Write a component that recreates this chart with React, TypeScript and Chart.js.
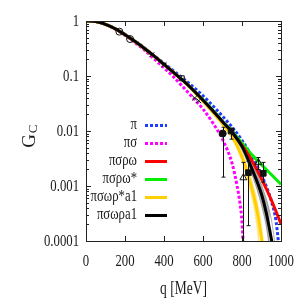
import { useEffect, useRef } from "react";
import { Chart, registerables } from "chart.js";
Chart.register(...registerables);

// ---- curves (q in MeV, G_C) ----
const qPi = [0, 50, 100, 150, 200, 250, 300, 350, 400, 450, 500, 550, 600, 650, 700, 750, 800, 850, 900, 950, 975, 992];
const gPi = [1, 0.977, 0.871, 0.724, 0.575, 0.437, 0.324, 0.234, 0.17, 0.123, 0.0891, 0.0631, 0.0437, 0.0288, 0.0186, 0.0117, 0.00676, 0.00347, 0.00158, 0.000537, 0.000224, 0.000063];

const qPiSigma = [0, 50, 100, 150, 200, 250, 300, 350, 400, 450, 500, 550, 600, 650, 700, 750, 775, 790, 800, 808];
const gPiSigma = [1, 0.977, 0.871, 0.708, 0.55, 0.407, 0.295, 0.204, 0.141, 0.0955, 0.0617, 0.0398, 0.0251, 0.0141, 0.00708, 0.00251, 0.001, 0.000479, 0.000224, 0.000063];

const qRhoOmega = [0, 50, 100, 150, 200, 250, 300, 350, 400, 450, 500, 550, 600, 650, 700, 750, 800, 850, 900, 950, 1000];
const gRhoOmega = [1, 0.977, 0.871, 0.724, 0.562, 0.427, 0.316, 0.229, 0.162, 0.115, 0.0813, 0.055, 0.0363, 0.0234, 0.0148, 0.00933, 0.0055, 0.00295, 0.00135, 0.000562, 0.000204];

const qRhoOmegaStar = [0, 50, 100, 150, 200, 250, 300, 350, 400, 450, 500, 550, 600, 650, 700, 750, 800, 850, 900, 950, 1000];
const gRhoOmegaStar = [1, 0.977, 0.871, 0.724, 0.562, 0.427, 0.316, 0.229, 0.162, 0.115, 0.0813, 0.0562, 0.0372, 0.024, 0.0151, 0.00977, 0.00603, 0.00372, 0.00245, 0.00162, 0.00107];

const qRhoStarA1 = [0, 50, 100, 150, 200, 250, 300, 350, 400, 450, 500, 550, 600, 650, 700, 750, 800, 850, 880, 900, 908];
const gRhoStarA1 = [1, 0.977, 0.871, 0.724, 0.562, 0.427, 0.316, 0.229, 0.162, 0.115, 0.0813, 0.0537, 0.0347, 0.0219, 0.0135, 0.00794, 0.00339, 0.000912, 0.000316, 0.000112, 0.000063];

const qRhoA1 = [0, 50, 100, 150, 200, 250, 300, 350, 400, 450, 500, 550, 600, 650, 700, 750, 800, 850, 900, 925, 950, 962];
const gRhoA1 = [1, 0.977, 0.871, 0.724, 0.562, 0.427, 0.316, 0.229, 0.162, 0.115, 0.0813, 0.055, 0.0363, 0.0234, 0.0148, 0.00933, 0.00525, 0.00209, 0.000708, 0.000316, 0.000112, 0.000063];

// uncertainty bands
const qBandA1Lo = [700, 750, 800, 850, 900, 930, 942];
const gBandA1Lo = [0.0141, 0.00851, 0.00457, 0.00166, 0.000447, 0.000141, 0.000063];
const qBandA1Hi = [700, 750, 800, 850, 900, 950, 975];
const gBandA1Hi = [0.0155, 0.0102, 0.00603, 0.00263, 0.00105, 0.000251, 0.000063];
const qBandStarLo = [700, 750, 800, 850, 875, 890];
const gBandStarLo = [0.0126, 0.00708, 0.00275, 0.000631, 0.0002, 0.000063];
const qBandStarHi = [700, 750, 800, 850, 885, 905, 915];
const gBandStarHi = [0.0141, 0.00891, 0.00407, 0.00126, 0.000398, 0.000141, 0.000063];

// ---- experimental points ----
const openCircleQ = [171, 226];
const openCircleG = [0.64, 0.47];
const crossQ = [337, 400, 557, 578];
const crossG = [0.243, 0.16, 0.0398, 0.0355];
const openSquareQ = [491];
const openSquareG = [0.091];
const filledCircleQ = [701];
const filledCircleG = [0.009];
const filledCircleLo = [0.00145];
const filledCircleHi = [0.0117];
const filledSquareQ = [744, 833, 909];
const filledSquareG = [0.01, 0.00175, 0.0017];
const filledSquareLo = [0.0071, 0.00019, 0.00117];
const filledSquareHi = [0.0112, 0.00282, 0.00269];
const openTriQ = [807, 884];
const openTriG = [0.00141, 0.00266];
const openTriLo = [0.00006, 0.002];
const openTriHi = [0.00269, 0.0033];

// ---- axes ----
const xTicks = [0, 200, 400, 600, 800, 1000];
const xTickLabels = ["0", "200", "400", "600", "800", "1000"];
const yTicks = [1, 0.1, 0.01, 0.001, 0.0001];
const yTickLabels = ["1", "0.1", "0.01", "0.001", "0.0001"];
const xTitle = "q [MeV]";
const yTitleMain = "G";
const yTitleSub = "C";
const legendLabels = ["π", "πσ", "πσρω", "πσρω*", "πσωρ*a1", "πσωρa1"];

const FONT = '"Liberation Serif", "DejaVu Serif", serif';
const SX = 0.75;

const pts = (q: number[], g: number[]) => q.map((x, i) => ({ x, y: g[i] }));

function txt(ctx: CanvasRenderingContext2D, s: string, x: number, y: number, align: CanvasTextAlign, size: number) {
  ctx.save();
  ctx.font = `${size}px ${FONT}`;
  ctx.textBaseline = "middle";
  ctx.textAlign = align;
  ctx.fillStyle = "#1a1a1a";
  ctx.translate(x, y);
  ctx.scale(SX, 1);
  ctx.fillText(s, 0, 0);
  ctx.restore();
}

const errorBars = {
  id: "errorBars",
  afterDatasetsDraw(chart: any) {
    const { ctx, chartArea: a, scales } = chart;
    const sets: [number[], number[], number[]][] = [
      [filledCircleQ, filledCircleLo, filledCircleHi],
      [filledSquareQ, filledSquareLo, filledSquareHi],
      [openTriQ, openTriLo, openTriHi],
    ];
    ctx.save();
    ctx.beginPath();
    ctx.rect(a.left, a.top, a.right - a.left, a.bottom - a.top);
    ctx.clip();
    ctx.strokeStyle = "#111";
    ctx.lineWidth = 1;
    for (const [q, lo, hi] of sets) {
      q.forEach((qq, i) => {
        const x = Math.round(scales.x.getPixelForValue(qq)) + 0.5;
        const y1 = scales.y.getPixelForValue(lo[i]);
        const y2 = scales.y.getPixelForValue(hi[i]);
        ctx.beginPath();
        ctx.moveTo(x, y1);
        ctx.lineTo(x, y2);
        ctx.moveTo(x - 2, y1);
        ctx.lineTo(x + 2, y1);
        ctx.moveTo(x - 2, y2);
        ctx.lineTo(x + 2, y2);
        ctx.stroke();
      });
    }
    ctx.restore();
  },
};

const frame = {
  id: "frame",
  afterDraw(chart: any) {
    const { ctx, chartArea: a, scales } = chart;
    ctx.save();
    ctx.strokeStyle = "#222";
    ctx.lineWidth = 1;
    ctx.strokeRect(Math.round(a.left) + 0.5, Math.round(a.top) + 0.5, Math.round(a.right - a.left), Math.round(a.bottom - a.top));
    ctx.beginPath();
    xTicks.forEach((v) => {
      const x = Math.round(scales.x.getPixelForValue(v)) + 0.5;
      ctx.moveTo(x, a.bottom);
      ctx.lineTo(x, a.bottom - 5);
      ctx.moveTo(x, a.top);
      ctx.lineTo(x, a.top + 5);
    });
    for (let d = 0; d < yTicks.length; d++) {
      const base = yTicks[d];
      const y = Math.round(scales.y.getPixelForValue(base)) + 0.5;
      ctx.moveTo(a.left, y);
      ctx.lineTo(a.left + 5, y);
      ctx.moveTo(a.right, y);
      ctx.lineTo(a.right - 5, y);
      if (d > 0) {
        for (let m = 2; m <= 9; m++) {
          const ym = Math.round(scales.y.getPixelForValue(base * m)) + 0.5;
          ctx.moveTo(a.left, ym);
          ctx.lineTo(a.left + 3, ym);
          ctx.moveTo(a.right, ym);
          ctx.lineTo(a.right - 3, ym);
        }
      }
    }
    ctx.stroke();
    ctx.restore();

    xTicks.forEach((v, i) => txt(ctx, xTickLabels[i], scales.x.getPixelForValue(v), a.bottom + 21, "center", 17));
    yTicks.forEach((v, i) => txt(ctx, yTickLabels[i], a.left - 7, scales.y.getPixelForValue(v) + 1, "right", 17));
    txt(ctx, xTitle, (a.left + a.right) / 2, a.bottom + 48, "center", 18);

    // y title rotated
    ctx.save();
    ctx.translate(30, 141);
    ctx.rotate(-Math.PI / 2);
    ctx.fillStyle = "#1a1a1a";
    ctx.textBaseline = "middle";
    ctx.textAlign = "center";
    ctx.font = `19px ${FONT}`;
    ctx.fillText(yTitleMain, 0, 0);
    ctx.font = `13px ${FONT}`;
    ctx.fillText(yTitleSub, 12, 4);
    ctx.restore();

    // legend
    const ds = chart.data.datasets;
    legendLabels.forEach((lab, i) => {
      const d = ds.find((s: any) => s.label === lab);
      if (!d) return;
      const y = 125 + i * 18;
      txt(ctx, lab, 137, y, "right", 17);
      ctx.save();
      ctx.strokeStyle = d.borderColor;
      ctx.lineWidth = d.borderWidth;
      ctx.setLineDash(d.borderDash || []);
      ctx.beginPath();
      ctx.moveTo(145, y + 0.5);
      ctx.lineTo(167, y + 0.5);
      ctx.stroke();
      ctx.restore();
    });
  },
};

export default function App() {
  const ref = useRef<HTMLCanvasElement>(null);
  useEffect(() => {
    if (!ref.current) return;
    const line = (label: string, q: number[], g: number[], color: string, order: number, dash?: number[]) => ({
      type: "line" as const,
      label,
      data: pts(q, g),
      borderColor: color,
      borderWidth: 3,
      borderDash: dash,
      borderCapStyle: "butt" as const,
      pointRadius: 0,
      fill: false,
      cubicInterpolationMode: "monotone" as const,
      order,
    });
    const band = (q: number[], g: number[], fillColor: string, fillTo: any, order: number) => ({
      type: "line" as const,
      data: pts(q, g),
      borderColor: fillColor,
      backgroundColor: fillColor,
      borderWidth: 1,
      pointRadius: 0,
      fill: fillTo,
      cubicInterpolationMode: "monotone" as const,
      order,
    });
    const marks = (q: number[], g: number[], style: string, filled: boolean, r: number) => ({
      type: "line" as const,
      data: pts(q, g),
      showLine: false,
      pointStyle: style,
      pointRadius: r,
      pointBorderColor: "#111",
      pointBackgroundColor: filled ? "#111" : "rgba(0,0,0,0)",
      pointBorderWidth: 1,
      order: 0,
    });
    const chart = new Chart(ref.current, {
      type: "line",
      data: {
        datasets: [
          band(qBandA1Lo, gBandA1Lo, "rgba(140,140,140,0.7)", false, 9),
          band(qBandA1Hi, gBandA1Hi, "rgba(140,140,140,0.7)", "-1", 9),
          band(qBandStarLo, gBandStarLo, "rgba(255,225,110,0.75)", false, 9),
          band(qBandStarHi, gBandStarHi, "rgba(255,225,110,0.75)", "-1", 9),
          line("π", qPi, gPi, "#1e3cff", 5, [3, 2]),
          line("πσ", qPiSigma, gPiSigma, "#ff00ff", 6, [3, 2]),
          line("πσρω", qRhoOmega, gRhoOmega, "#ff0000", 3),
          line("πσρω*", qRhoOmegaStar, gRhoOmegaStar, "#00ee00", 4),
          line("πσωρ*a1", qRhoStarA1, gRhoStarA1, "#ffd000", 2),
          line("πσωρa1", qRhoA1, gRhoA1, "#000000", 1),
          marks(openCircleQ, openCircleG, "circle", false, 3.5),
          marks(crossQ, crossG, "crossRot", false, 3.5),
          marks(openSquareQ, openSquareG, "rect", false, 3.5),
          marks(filledCircleQ, filledCircleG, "circle", true, 3.5),
          marks(filledSquareQ, filledSquareG, "rect", true, 4),
          marks(openTriQ, openTriG, "triangle", false, 4),
        ] as any,
      },
      options: {
        responsive: false,
        animation: false,
        layout: { padding: { left: 86, top: 21, right: 19, bottom: 59 } },
        plugins: { legend: { display: false }, tooltip: { enabled: false } },
        scales: {
          x: { type: "linear", min: 0, max: 1000, display: false },
          y: { type: "logarithmic", min: 0.0001, max: 1, display: false },
        },
      },
      plugins: [errorBars, frame],
    });
    return () => chart.destroy();
  }, []);
  return (
    <div style={{ position: "fixed", left: 0, top: 0, width: 300, height: 300, background: "#fff" }}>
      <canvas ref={ref} width={300} height={300} style={{ display: "block" }} />
    </div>
  );
}
